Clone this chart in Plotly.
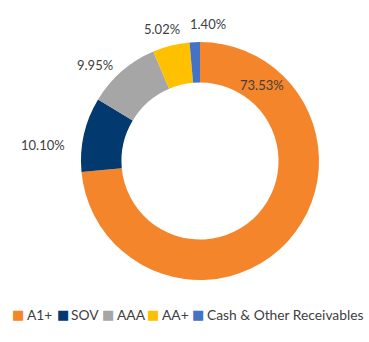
import plotly.graph_objects as go

# Portfolio rating split
ratings = ["A1+", "SOV", "AAA", "AA+", "Cash & Other Receivables"]
shares = [73.53, 10.10, 9.95, 5.02, 1.40]
colors = ["#F5852A", "#023A70", "#A6A6A6", "#FFC000", "#4472C4"]

# Label positions (pixels from top-left) for the percentage captions
label_x = [262, 43, 95, 162, 208]
label_y = [85, 145, 65, 29, 24]

# Legend entry positions (pixels from left): swatch and caption starts
legend_swatch_x = [15, 60, 105, 150, 195]
legend_text_x = [28, 72, 118, 163, 208]
legend_y = 314

W, H = 369, 342
cx, cy, r = 200, 161, 119

fig = go.Figure(go.Pie(
    labels=ratings,
    values=shares,
    marker=dict(colors=colors, line=dict(width=0)),
    hole=0.66,
    sort=False,
    direction="clockwise",
    rotation=0,
    textinfo="none",
    hoverinfo="label+value",
    showlegend=False,
    domain=dict(x=[(cx - r) / W, (cx + r) / W], y=[(H - cy - r) / H, (H - cy + r) / H]),
))

for v, x, y in zip(shares, label_x, label_y):
    fig.add_annotation(
        x=x / W, y=1 - y / H, xref="paper", yref="paper",
        text=f"{v:.2f}%", showarrow=False,
        font=dict(family="Lato", size=13, color="#404040"),
        xanchor="center", yanchor="middle",
    )

# Legend: one coloured swatch glyph and one caption per rating
for name, c, sx, tx in zip(ratings, colors, legend_swatch_x, legend_text_x):
    fig.add_annotation(
        x=sx / W, y=1 - legend_y / H, xref="paper", yref="paper",
        text="■", showarrow=False, borderpad=0, borderwidth=0,
        font=dict(family="DejaVu Sans", size=13, color=c),
        xanchor="left", yanchor="middle", xshift=-3,
    )
    fig.add_annotation(
        x=tx / W, y=1 - legend_y / H, xref="paper", yref="paper",
        text=name, showarrow=False, borderpad=0, borderwidth=0,
        font=dict(family="Lato", size=13.8, color="#404040"),
        xanchor="left", yanchor="middle", xshift=-1,
    )

fig.update_layout(
    width=W, height=H,
    margin=dict(l=0, r=0, t=0, b=0),
    paper_bgcolor="white",
    plot_bgcolor="white",
    showlegend=False,
    font=dict(family="Lato", size=13, color="#404040"),
)

fig.write_html("out.html")
